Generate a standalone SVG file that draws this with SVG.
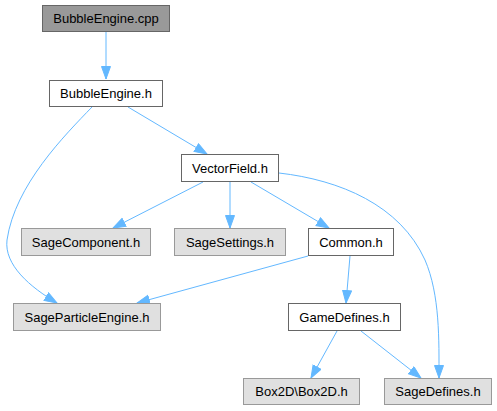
<svg xmlns="http://www.w3.org/2000/svg" width="497" height="411" viewBox="0 0 497 411">
<style>
.n rect{stroke-width:1}
.root rect{fill:#999999;stroke:#666666}
.w rect{fill:#ffffff;stroke:#666666}
.g rect{fill:#e0e0e0;stroke:#999999}
text{font-family:"Liberation Sans",Arial,sans-serif;font-size:13px;fill:#000000;text-anchor:middle}
.e path{fill:none;stroke:#63b8ff;stroke-width:1;marker-end:url(#ah)}
</style>
<defs>
<marker id="ah" markerUnits="userSpaceOnUse" markerWidth="15" markerHeight="12" refX="13" refY="5" orient="auto">
<path d="M0.5,0.5 L13,5 L0.5,9.5 Z" fill="#63b8ff" stroke="#63b8ff" stroke-width="1"/>
</marker>
</defs>
<g id="edges" class="e">
<path d="M106,32 L106,79"/>
<path d="M128,107 L207,154"/>
<path d="M92,107 C65,135 15,185 7,240 C4,265 30,287 57,303"/>
<path d="M203,182 L113,228"/>
<path d="M230,182 L230,228"/>
<path d="M251,182 L329,228"/>
<path d="M279,173 C340,180 400,205 425,260 C440,295 439,340 439,378"/>
<path d="M308,256 L137,303"/>
<path d="M350,256 L346,303"/>
<path d="M337,331 L311,378"/>
<path d="M361,331 L421,378"/>
</g>
<g id="n_cpp" class="n root"><rect x="42.5" y="5.5" width="127" height="26"/><text x="106" y="23">BubbleEngine.cpp</text></g>
<g id="n_h" class="n w"><rect x="49.5" y="80.5" width="113" height="26"/><text x="106" y="98">BubbleEngine.h</text></g>
<g id="n_vf" class="n w"><rect x="181.5" y="154.5" width="97" height="27"/><text x="230" y="172.5">VectorField.h</text></g>
<g id="n_sc" class="n g"><rect x="21.5" y="228.5" width="129" height="27"/><text x="86" y="246.5">SageComponent.h</text></g>
<g id="n_ss" class="n g"><rect x="174.5" y="228.5" width="111" height="27"/><text x="230" y="246.5">SageSettings.h</text></g>
<g id="n_common" class="n w"><rect x="308.5" y="228.5" width="85" height="27"/><text x="351" y="246.5">Common.h</text></g>
<g id="n_spe" class="n g"><rect x="13.5" y="303.5" width="147" height="27"/><text x="87" y="321.5">SageParticleEngine.h</text></g>
<g id="n_gd" class="n w"><rect x="288.5" y="303.5" width="112" height="27"/><text x="344.5" y="321.5">GameDefines.h</text></g>
<g id="n_box" class="n g"><rect x="243.5" y="378.5" width="116" height="26"/><text x="301.5" y="396">Box2D\Box2D.h</text></g>
<g id="n_sd" class="n g"><rect x="384.5" y="378.5" width="107" height="26"/><text x="438" y="396">SageDefines.h</text></g>
</svg>
